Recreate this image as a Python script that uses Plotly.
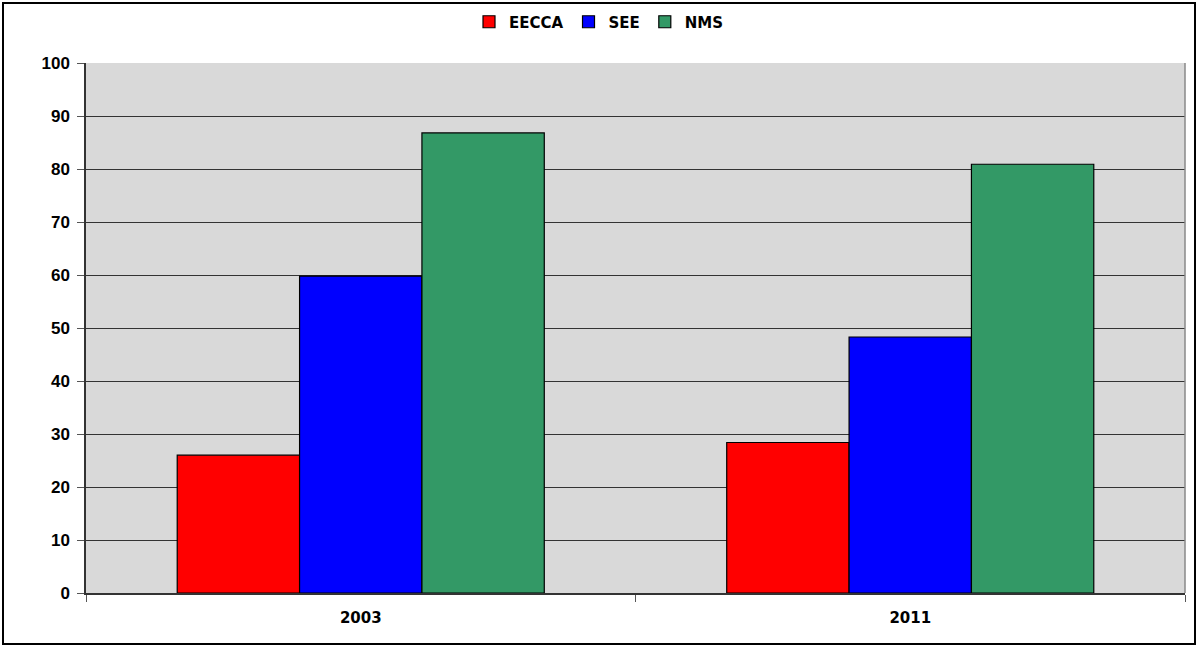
import plotly.graph_objects as go

# Survey years and shares per region group
years = ["2003", "2011"]
eecca = [26.0, 28.4]
see = [59.8, 48.3]
nms = [86.8, 80.9]

series = [("EECCA", eecca, "#FF0000"), ("SEE", see, "#0000FF"), ("NMS", nms, "#339966")]

W, H = 1198, 647
ML, MR, MT, MB = 86, 13, 63, 54

fig = go.Figure()
for name, vals, color in series:
    fig.add_trace(go.Bar(
        x=years, y=vals, name=name,
        marker=dict(color=color, line=dict(color="#000000", width=1.2)),
    ))

pw = W - ML - MR
ph = H - MT - MB

def px_x(p):
    return (p - ML) / pw

def px_y(p):
    return (H - MB - p) / ph

fig.update_layout(
    width=W, height=H,
    margin=dict(l=ML, r=MR, t=MT, b=MB, autoexpand=False),
    paper_bgcolor="#FFFFFF",
    plot_bgcolor="#D9D9D9",
    barmode="group",
    bargap=0.332,
    bargroupgap=0,
    showlegend=True,
    legend=dict(
        orientation="h", x=0.5, xanchor="center", xref="container",
        y=1 - 22 / H, yanchor="middle", yref="container",
        font=dict(family="DejaVu Sans", size=15, color="#000000", weight="bold"),
        itemwidth=30, traceorder="normal",
        bgcolor="rgba(0,0,0,0)",
    ),
    xaxis=dict(
        type="category",
        showgrid=False,
        tickson="boundaries",
        ticks="outside", ticklen=7, tickcolor="#555555",
        showline=True, linecolor="#333333", linewidth=1.5,
        tickfont=dict(family="DejaVu Sans", size=15, color="#000000", weight="bold"),
        ticklabelstandoff=10,
    ),
    yaxis=dict(
        range=[0, 100], dtick=10,
        showgrid=True, gridcolor="#333333", gridwidth=1,
        ticks="outside", ticklen=7, tickcolor="#555555",
        showline=True, linecolor="#333333", linewidth=1.5,
        tickfont=dict(family="Liberation Sans", size=17, color="#000000", weight="bold"),
        ticklabelstandoff=4,
        zeroline=False,
    ),
    shapes=[
        # right edge of plot area
        dict(type="line", xref="paper", yref="paper", x0=1, x1=1, y0=0, y1=1,
             line=dict(color="#888888", width=1.5)),
        # outer chart frame
        dict(type="rect", xref="paper", yref="paper",
             x0=px_x(3), x1=px_x(1195), y0=px_y(644), y1=px_y(3),
             line=dict(color="#000000", width=2), layer="above"),
    ],
)

fig.write_html("out.html")
